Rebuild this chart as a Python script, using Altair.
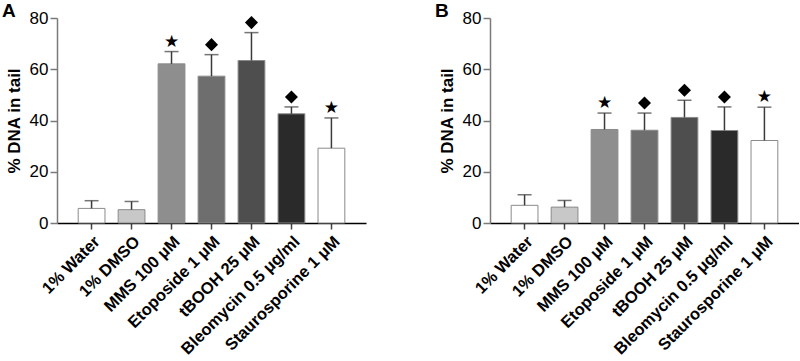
import altair as alt
import pandas as pd

FONT = "Liberation Sans"

treatments = [
    "1% Water",
    "1% DMSO",
    "MMS 100 μM",
    "Etoposide 1 μM",
    "tBOOH 25 μM",
    "Bleomycin 0.5 μg/ml",
    "Staurosporine 1 μM",
]
fills = ["#ffffff", "#c8c8c8", "#8e8e8e", "#6e6e6e", "#4e4e4e", "#2a2a2a", "#ffffff"]
markers = ["", "", "star", "diamond", "diamond", "diamond", "star"]

# Panel A
a_mean = [5.7, 5.2, 62.1, 57.3, 63.4, 42.6, 29.2]
a_sd = [3.0, 3.2, 4.8, 8.4, 10.9, 2.7, 11.8]

# Panel B
b_mean = [6.9, 6.2, 36.5, 36.2, 41.2, 36.1, 32.2]
b_sd = [4.1, 2.6, 6.4, 6.7, 6.7, 9.2, 13.0]


def panel(letter, means, sds):
    df = pd.DataFrame({
        "treatment": treatments,
        "mean": means,
        "sd": sds,
        "marker": markers,
    })
    df["upper"] = df["mean"] + df["sd"]

    base = alt.Chart(df).encode(
        x=alt.X(
            "treatment:N",
            sort=treatments,
            scale=alt.Scale(paddingInner=0.33, paddingOuter=0.53),
            axis=alt.Axis(
                title=None,
                labelAngle=-45,
                labelFont=FONT,
                labelFontSize=16.5,
                labelFontWeight="bold",
                labelColor="black",
                labelPadding=4,
                domainColor="black",
                domainWidth=1.5,
                tickColor="#444444",
                tickWidth=1.5,
                tickSize=6,
            ),
        )
    )
    yscale = alt.Scale(domain=[0, 80], nice=False)

    bars = base.mark_bar(stroke="#8a8a8a", strokeWidth=1).encode(
        y=alt.Y(
            "mean:Q",
            scale=yscale,
            axis=alt.Axis(
                values=[0, 20, 40, 60, 80],
                title="% DNA in tail",
                titleFont=FONT,
                titleFontSize=17,
                titleFontWeight="bold",
                titleColor="black",
                titlePadding=6,
                labelFont=FONT,
                labelFontSize=17,
                labelColor="black",
                labelPadding=2,
                domainColor="#7a7a7a",
                domainWidth=1.5,
                tickColor="#7a7a7a",
                tickWidth=1.5,
                tickSize=7,
                grid=False,
            ),
        ),
        fill=alt.Fill("treatment:N", scale=alt.Scale(domain=treatments, range=fills), legend=None),
    )
    err = base.mark_rule(color="#3a3a3a", strokeWidth=1.5).encode(
        y=alt.Y("mean:Q", scale=yscale), y2="upper:Q"
    )
    cap = base.mark_tick(color="#3a3a3a", thickness=1.5, size=14).encode(
        y=alt.Y("upper:Q", scale=yscale)
    )
    diamonds = base.transform_filter(alt.datum.marker == "diamond").mark_point(
        shape="diamond", filled=True, color="black", opacity=1, size=170, yOffset=-10
    ).encode(y=alt.Y("upper:Q", scale=yscale))
    stars = base.transform_filter(alt.datum.marker == "star").mark_text(
        text="★", fontSize=17, baseline="middle", dy=-10, color="black", font="DejaVu Sans"
    ).encode(y=alt.Y("upper:Q", scale=yscale))

    return alt.layer(bars, err, cap, diamonds, stars).properties(
        width=309,
        height=205,
        title=alt.TitleParams(
            letter,
            anchor="start",
            frame="group",
            dx=-55,
            dy=16,
            font=FONT,
            fontSize=19,
            fontWeight="bold",
            color="black",
        ),
    )


chart = alt.hconcat(
    panel("A", a_mean, a_sd),
    panel("B", b_mean, b_sd),
    spacing=124,
    bounds="flush",
).properties(
    padding={"left": 2, "top": 2, "right": 0, "bottom": 0}
).configure_view(stroke=None)

chart.save("out.html", embed_options={"renderer": "svg", "actions": False})
